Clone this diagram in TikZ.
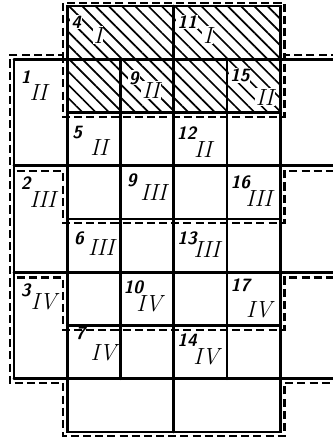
\documentclass[tikz,border=0pt]{standalone}
\usetikzlibrary{patterns.meta}
\begin{document}
\begin{tikzpicture}[
  wall/.style={line width=1.4pt, line cap=round},
  stage/.style={line width=1.2pt, dash pattern=on 4.3pt off 2.2pt},
  hatch/.style={pattern={Lines[angle=-45, distance=5pt, line width=0.9pt]}},
  numlab/.style={font=\fontsize{9.5}{11}\selectfont\sffamily\bfseries\itshape, inner sep=0.5pt},
  romlab/.style={font=\fontsize{12.5}{14}\selectfont\itshape, inner sep=0.5pt},
  onhatch/.style={fill=white}
]
  \useasboundingbox (-0.263,0.113) rectangle (5.972,-8.150);

  % hatched area
  \fill[hatch] (1,0) rectangle (5,-2);

  % walls
  \draw[wall] (1,0) rectangle (5,-1);
  \draw[wall] (3,0) -- (3,-1);
  \draw[wall] (1,-7) rectangle (5,-8);
  \draw[wall] (3,-7) -- (3,-8);
  \foreach \x in {0,...,5} \draw[wall] (\x,-1) -- (\x,-7);
  \foreach \y in {1,3,5,7} \draw[wall] (0,-\y) -- (6.1,-\y);
  \foreach \y in {2,4,6} \draw[wall] (1,-\y) -- (5,-\y);

  % stage outlines
  \draw[stage] (6.1,-0.92) -- (5.08,-0.92) -- (5.08,0.06) -- (0.92,0.06) -- (0.92,-0.92)
    -- (-0.08,-0.92) -- (-0.08,-7.08) -- (0.92,-7.08) -- (0.92,-8.08) -- (5.08,-8.08)
    -- (5.08,-7.08) -- (6.1,-7.08);
  \draw[stage] (0.92,-0.92) -- (0.92,-2.08) -- (5.08,-2.08) -- (5.08,-0.92);
  \draw[stage] (0.05,-3.1) -- (0.92,-3.1) -- (0.92,-4.08) -- (5.08,-4.08) -- (5.08,-3.1) -- (6.1,-3.1);
  \draw[stage] (0.05,-5.1) -- (0.92,-5.1) -- (0.92,-6.08) -- (5.08,-6.08) -- (5.08,-5.1) -- (6.1,-5.1);

  % labels on the hatched sections
  \foreach \i/\nx/\ny/\num/\rx/\ry/\rom in {
      a/1.17/-0.30/4/1.58/-0.55/I,
      b/3.25/-0.30/11/3.64/-0.55/I,
      c/2.25/-1.35/9/2.57/-1.58/II,
      d/4.24/-1.30/15/4.71/-1.71/II} {
    \node[numlab, onhatch] (num-\i) at (\nx,\ny) {\num};
    \node[romlab, onhatch] (rom-\i) at (\rx,\ry) {\rom};
  }

  % section numbers and stages
  \foreach \i/\nx/\ny/\num/\rx/\ry/\rom in {
      e/0.22/-1.33/1/0.46/-1.62/II,
      f/1.19/-2.37/5/1.60/-2.65/II,
      g/3.24/-2.39/12/3.55/-2.70/II,
      h/0.22/-3.32/2/0.54/-3.64/III,
      i/2.21/-3.27/9/2.62/-3.51/III,
      j/4.25/-3.31/16/4.60/-3.61/III,
      k/1.22/-4.36/6/1.64/-4.53/III,
      l/3.25/-4.36/13/3.62/-4.57/III,
      m/0.22/-5.33/3/0.56/-5.56/IV,
      n/2.24/-5.28/10/2.54/-5.60/IV,
      o/4.25/-5.24/17/4.60/-5.71/IV,
      p/1.25/-6.14/7/1.68/-6.52/IV,
      q/3.25/-6.27/14/3.61/-6.59/IV} {
    \node[numlab] (num-\i) at (\nx,\ny) {\num};
    \node[romlab] (rom-\i) at (\rx,\ry) {\rom};
  }
\end{tikzpicture}
\end{document}
